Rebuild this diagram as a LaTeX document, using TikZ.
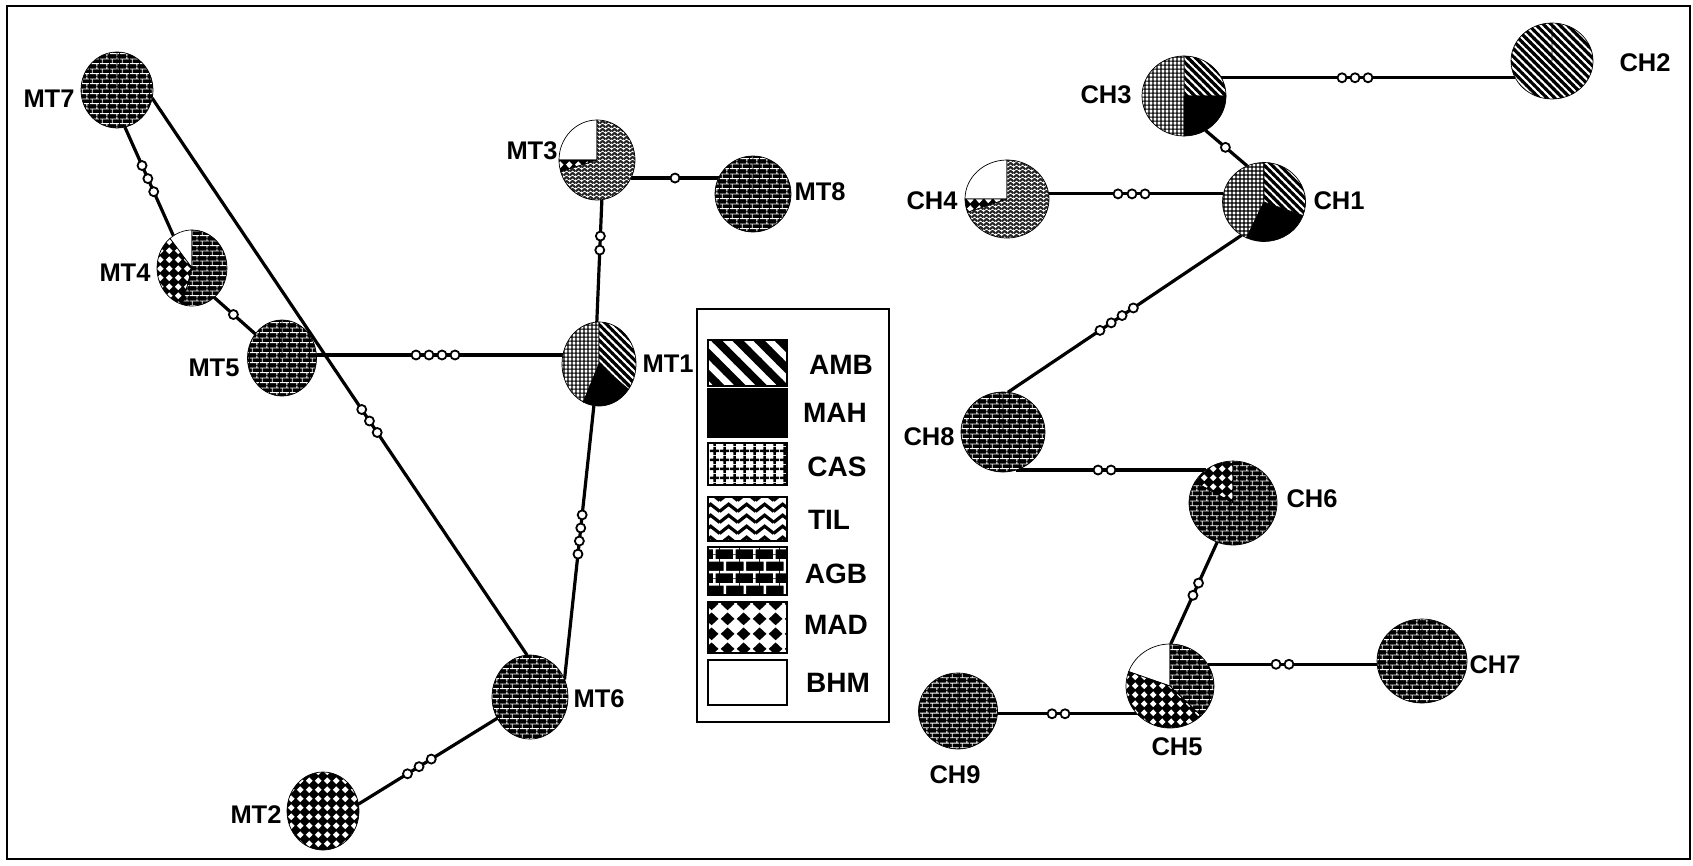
\documentclass[tikz,border=0pt]{standalone}
\usepackage{fontspec}
\setmainfont{Liberation Sans}
\usetikzlibrary{patterns.meta,shapes.geometric,calc}

% ---------- small patterns (pies) ----------
\pgfdeclarepattern{name=stripeS, type=uncolored,
  bottom left={\pgfpoint{-1pt}{0pt}}, top right={\pgfpoint{6.5pt}{5.5pt}},
  tile size={\pgfpoint{5.5pt}{5.5pt}},
  tile transformation={\pgftransformrotate{-45}},
  code={\pgfsetlinewidth{3.1pt}
    \pgfpathmoveto{\pgfpoint{-1pt}{2.75pt}}\pgfpathlineto{\pgfpoint{6.5pt}{2.75pt}}
    \pgfusepath{stroke}}}
\pgfdeclarepattern{name=gridS, type=uncolored,
  bottom left={\pgfpoint{0pt}{0pt}}, top right={\pgfpoint{4.4pt}{4.4pt}},
  tile size={\pgfpoint{4.4pt}{4.4pt}},
  code={\pgfsetlinewidth{1.25pt}
    \pgfpathmoveto{\pgfpoint{0pt}{2.2pt}}\pgfpathlineto{\pgfpoint{4.4pt}{2.2pt}}
    \pgfpathmoveto{\pgfpoint{2.2pt}{0pt}}\pgfpathlineto{\pgfpoint{2.2pt}{4.4pt}}
    \pgfusepath{stroke}}}
\pgfdeclarepattern{name=zigS, type=uncolored,
  bottom left={\pgfpoint{0pt}{0pt}}, top right={\pgfpoint{6pt}{3.8pt}},
  tile size={\pgfpoint{6pt}{3.8pt}},
  code={\pgfsetlinewidth{2.2pt}
    \pgfpathmoveto{\pgfpoint{-0.3pt}{0.5pt}}\pgfpathlineto{\pgfpoint{3pt}{3.3pt}}
    \pgfpathlineto{\pgfpoint{6.3pt}{0.5pt}}
    \pgfusepath{stroke}}}
\pgfdeclarepattern{name=brickS, type=uncolored,
  bottom left={\pgfpoint{0pt}{0pt}}, top right={\pgfpoint{10pt}{9.6pt}},
  tile size={\pgfpoint{10pt}{9.6pt}},
  code={\pgfsetlinewidth{0.9pt}
    \pgfpathmoveto{\pgfpoint{0pt}{2.4pt}}\pgfpathlineto{\pgfpoint{10pt}{2.4pt}}
    \pgfpathmoveto{\pgfpoint{0pt}{7.2pt}}\pgfpathlineto{\pgfpoint{10pt}{7.2pt}}
    \pgfpathmoveto{\pgfpoint{2.5pt}{2.4pt}}\pgfpathlineto{\pgfpoint{2.5pt}{7.2pt}}
    \pgfpathmoveto{\pgfpoint{7.5pt}{7.2pt}}\pgfpathlineto{\pgfpoint{7.5pt}{9.6pt}}
    \pgfpathmoveto{\pgfpoint{7.5pt}{0pt}}\pgfpathlineto{\pgfpoint{7.5pt}{2.4pt}}
    \pgfusepath{stroke}}}
\pgfdeclarepattern{name=diaS, type=uncolored,
  bottom left={\pgfpoint{0pt}{0pt}}, top right={\pgfpoint{8.7pt}{8.7pt}},
  tile size={\pgfpoint{8.7pt}{8.7pt}},
  code={
    \pgfpathmoveto{\pgfpoint{4.35pt}{0.95pt}}\pgfpathlineto{\pgfpoint{7.75pt}{4.35pt}}
    \pgfpathlineto{\pgfpoint{4.35pt}{7.75pt}}\pgfpathlineto{\pgfpoint{0.95pt}{4.35pt}}
    \pgfpathclose\pgfusepath{fill}}}
% ---------- large patterns (legend) ----------
\pgfdeclarepattern{name=stripeL, type=uncolored,
  bottom left={\pgfpoint{-1pt}{0pt}}, top right={\pgfpoint{16pt}{15pt}},
  tile size={\pgfpoint{15pt}{15pt}},
  tile transformation={\pgftransformrotate{-45}},
  code={\pgfsetlinewidth{8pt}
    \pgfpathmoveto{\pgfpoint{-1pt}{7.5pt}}\pgfpathlineto{\pgfpoint{16pt}{7.5pt}}
    \pgfusepath{stroke}}}
\pgfdeclarepattern{name=gridL, type=uncolored,
  bottom left={\pgfpoint{0pt}{0pt}}, top right={\pgfpoint{10pt}{8.5pt}},
  tile size={\pgfpoint{10pt}{8.5pt}},
  code={\pgfsetlinewidth{2.6pt}
    \pgfpathmoveto{\pgfpoint{0pt}{4.25pt}}\pgfpathlineto{\pgfpoint{10pt}{4.25pt}}
    \pgfpathmoveto{\pgfpoint{5pt}{0pt}}\pgfpathlineto{\pgfpoint{5pt}{8.5pt}}
    \pgfusepath{stroke}}}
\pgfdeclarepattern{name=zigL, type=uncolored,
  bottom left={\pgfpoint{0pt}{0pt}}, top right={\pgfpoint{18pt}{11pt}},
  tile size={\pgfpoint{18pt}{11pt}},
  code={\pgfsetlinewidth{3.4pt}
    \pgfpathmoveto{\pgfpoint{-0.6pt}{1.6pt}}\pgfpathlineto{\pgfpoint{9pt}{9.4pt}}
    \pgfpathlineto{\pgfpoint{18.6pt}{1.6pt}}
    \pgfusepath{stroke}}}
\pgfdeclarepattern{name=brickL, type=uncolored,
  bottom left={\pgfpoint{0pt}{0pt}}, top right={\pgfpoint{20pt}{24pt}},
  tile size={\pgfpoint{20pt}{24pt}},
  code={\pgfsetlinewidth{2.6pt}
    \pgfpathmoveto{\pgfpoint{0pt}{6pt}}\pgfpathlineto{\pgfpoint{20pt}{6pt}}
    \pgfpathmoveto{\pgfpoint{0pt}{18pt}}\pgfpathlineto{\pgfpoint{20pt}{18pt}}
    \pgfpathmoveto{\pgfpoint{5pt}{6pt}}\pgfpathlineto{\pgfpoint{5pt}{18pt}}
    \pgfpathmoveto{\pgfpoint{15pt}{18pt}}\pgfpathlineto{\pgfpoint{15pt}{24pt}}
    \pgfpathmoveto{\pgfpoint{15pt}{0pt}}\pgfpathlineto{\pgfpoint{15pt}{6pt}}
    \pgfusepath{stroke}}}
\pgfdeclarepattern{name=diaL, type=uncolored,
  bottom left={\pgfpoint{0pt}{0pt}}, top right={\pgfpoint{16pt}{15pt}},
  tile size={\pgfpoint{16pt}{15pt}},
  code={
    \pgfpathmoveto{\pgfpoint{8pt}{0.8pt}}\pgfpathlineto{\pgfpoint{15.2pt}{7.5pt}}
    \pgfpathlineto{\pgfpoint{8pt}{14.2pt}}\pgfpathlineto{\pgfpoint{0.8pt}{7.5pt}}
    \pgfpathclose\pgfusepath{fill}}}

\newcommand\mkslice[7]{\path[#7,draw=black,line width=0.7pt] (#1,#2) -- ++(#5:#3 and #4)
  arc[start angle=#5,end angle=#6,x radius=#3,y radius=#4] -- cycle;}

\tikzset{
  amb/.style={preaction={fill=white}, pattern=stripeS, pattern color=black},
  mah/.style={fill=black},
  cas/.style={preaction={fill=white}, pattern=gridS, pattern color=black},
  til/.style={preaction={fill=white}, pattern=zigS, pattern color=black!85},
  agb/.style={preaction={fill=black}, pattern=brickS, pattern color=white},
  mad/.style={preaction={fill=black}, pattern=diaS, pattern color=white},
  bhm/.style={fill=white},
  ambL/.style={preaction={fill=white}, pattern=stripeL, pattern color=black},
  casL/.style={preaction={fill=white}, pattern=gridL, pattern color=black},
  tilL/.style={preaction={fill=white}, pattern=zigL, pattern color=black},
  agbL/.style={preaction={fill=black}, pattern=brickL, pattern color=white},
  madL/.style={preaction={fill=white}, pattern=diaL, pattern color=black},
  swatch/.style={draw=black, line width=2pt},
  pn/.style={shape=ellipse, inner sep=0pt, outer sep=0pt},
  edge/.style={line width=3.2pt},
  mut/.style={circle, draw=black, fill=white, line width=1.8pt, inner sep=0pt, minimum size=9pt},
  lbl/.style={font=\fontsize{25.5}{30}\selectfont\bfseries, inner sep=0pt},
  lgl/.style={font=\fontsize{28}{32}\selectfont\bfseries, inner sep=0pt},
}

\begin{document}
\begin{tikzpicture}[x=1pt,y=1pt]
\useasboundingbox (0,0) rectangle (1693,-865);
\fill[white] (0,0) rectangle (1693,-865);
\draw[line width=2.5pt] (7,-6) rectangle (1690,-859);

% ---- invisible pie nodes (for connector anchors) ----
\node[pn, minimum width=72pt, minimum height=76pt] (MT7) at (117,-90) {};
\node[pn, minimum width=76pt, minimum height=80pt] (MT3) at (597,-160) {};
\node[pn, minimum width=76pt, minimum height=76pt] (MT8) at (753,-194) {};
\node[pn, minimum width=70pt, minimum height=76pt] (MT4) at (192,-268) {};
\node[pn, minimum width=69pt, minimum height=76pt] (MT5) at (282,-358) {};
\node[pn, minimum width=74pt, minimum height=84pt] (MT1) at (599,-364) {};
\node[pn, minimum width=76pt, minimum height=84pt] (MT6) at (530,-697) {};
\node[pn, minimum width=72pt, minimum height=78pt] (MT2) at (323,-811) {};
\node[pn, minimum width=84pt, minimum height=80pt] (CH3) at (1184,-96) {};
\node[pn, minimum width=82pt, minimum height=76pt] (CH2) at (1552,-61) {};
\node[pn, minimum width=84pt, minimum height=78pt] (CH4) at (1007,-199) {};
\node[pn, minimum width=83pt, minimum height=79pt] (CH1) at (1264,-202) {};
\node[pn, minimum width=84pt, minimum height=80pt] (CH8) at (1003,-432) {};
\node[pn, minimum width=88pt, minimum height=84pt] (CH6) at (1233,-503) {};
\node[pn, minimum width=88pt, minimum height=84pt] (CH5) at (1170,-686) {};
\node[pn, minimum width=90pt, minimum height=84pt] (CH7) at (1422,-661) {};
\node[pn, minimum width=79pt, minimum height=76pt] (CH9) at (958,-711) {};

% ---- connectors ----
\draw[edge] (MT7.-78) -- (MT4.120);
\draw[edge] (MT7.-13) -- (MT6.94);
\draw[edge] (MT4.-53) -- (MT5.138);
\draw[edge] (MT5.5) -- (MT5.5 -| MT1.166);
\draw[edge] (MT3.-83) -- (MT1.93);
\draw[edge] (MT3.-28) -- (MT3.-28 -| MT8.155);
\draw[edge] (MT1.-97) -- (MT6.27);
\draw[edge] (MT6.-147) -- (MT2.11);
\draw[edge] (CH3.26) -- (CH3.26 -| CH2.205);
\draw[edge] (CH3.-58) -- (CH1.115);
\draw[edge] (CH4.7) -- (CH4.7 -| CH1.169);
\draw[edge] (CH1.-124) -- (CH8.83);
\draw[edge] (CH8.-71) -- (CH8.-71 -| CH6.129.5);
\draw[edge] (CH6.-112) -- (CH5.89);
\draw[edge] (CH5.30) -- (CH5.30 -| CH7.184);
\draw[edge] (CH9.-4) -- (CH9.-4 -| CH5.220);

% ---- mutation steps ----
\node[mut] (a1) at ($(MT7.-78)!(141,-166)!(MT4.120)$) {};
\node[mut] (a2) at ($(MT7.-78)!(147,-179)!(MT4.120)$) {};
\node[mut] (a3) at ($(MT7.-78)!(153,-192)!(MT4.120)$) {};
\node[mut] (b1) at ($(MT7.-13)!(361,-410)!(MT6.94)$) {};
\node[mut] (b2) at ($(MT7.-13)!(368,-422)!(MT6.94)$) {};
\node[mut] (b3) at ($(MT7.-13)!(375,-434)!(MT6.94)$) {};
\node[mut] (c1) at ($(MT4.-53)!(233,-315)!(MT5.138)$) {};
\node[mut] (d1) at (416,0 |- MT5.5) {};
\node[mut] (d2) at (429,0 |- MT5.5) {};
\node[mut] (d3) at (442,0 |- MT5.5) {};
\node[mut] (d4) at (455,0 |- MT5.5) {};
\node[mut] (e1) at ($(MT3.-83)!(599,-236)!(MT1.93)$) {};
\node[mut] (e2) at ($(MT3.-83)!(598,-250)!(MT1.93)$) {};
\node[mut] (f1) at (675,0 |- MT3.-28) {};
\node[mut] (g1) at ($(MT1.-97)!(583,-515)!(MT6.27)$) {};
\node[mut] (g2) at ($(MT1.-97)!(581,-528)!(MT6.27)$) {};
\node[mut] (g3) at ($(MT1.-97)!(579,-541)!(MT6.27)$) {};
\node[mut] (g4) at ($(MT1.-97)!(577,-554)!(MT6.27)$) {};
\node[mut] (h1) at ($(MT6.-147)!(407,-773)!(MT2.11)$) {};
\node[mut] (h2) at ($(MT6.-147)!(418,-765)!(MT2.11)$) {};
\node[mut] (h3) at ($(MT6.-147)!(430,-757)!(MT2.11)$) {};
\node[mut] (i1) at (1342,0 |- CH3.26) {};
\node[mut] (i2) at (1355,0 |- CH3.26) {};
\node[mut] (i3) at (1368,0 |- CH3.26) {};
\node[mut] (j1) at ($(CH3.-58)!(1224,-149)!(CH1.115)$) {};
\node[mut] (k1) at (1118,0 |- CH4.7) {};
\node[mut] (k2) at (1132,0 |- CH4.7) {};
\node[mut] (k3) at (1145,0 |- CH4.7) {};
\node[mut] (l1) at ($(CH1.-124)!(1099,-329)!(CH8.83)$) {};
\node[mut] (l2) at ($(CH1.-124)!(1110,-321)!(CH8.83)$) {};
\node[mut] (l3) at ($(CH1.-124)!(1121,-314)!(CH8.83)$) {};
\node[mut] (l4) at ($(CH1.-124)!(1132,-306)!(CH8.83)$) {};
\node[mut] (n1) at (1098,0 |- CH8.-71) {};
\node[mut] (n2) at (1111,0 |- CH8.-71) {};
\node[mut] (o1) at ($(CH6.-112)!(1194,-581)!(CH5.89)$) {};
\node[mut] (o2) at ($(CH6.-112)!(1190,-594)!(CH5.89)$) {};
\node[mut] (p1) at (1276,0 |- CH5.30) {};
\node[mut] (p2) at (1289,0 |- CH5.30) {};
\node[mut] (q1) at (1052,0 |- CH9.-4) {};
\node[mut] (q2) at (1065,0 |- CH9.-4) {};

% ---- pies ----
\mkslice{117}{-90}{36}{38}{90}{450}{agb}
\mkslice{597}{-160}{38}{40}{90}{180}{bhm}
\mkslice{597}{-160}{38}{40}{180}{197}{mad}
\mkslice{597}{-160}{38}{40}{197}{450}{til}
\mkslice{753}{-194}{38}{38}{90}{450}{agb}
\mkslice{192}{-268}{35}{38}{90}{129}{bhm}
\mkslice{192}{-268}{35}{38}{129}{254}{mad}
\mkslice{192}{-268}{35}{38}{254}{450}{agb}
\mkslice{282}{-358}{34.5}{38}{90}{450}{agb}
\mkslice{599}{-364}{37}{42}{90}{245}{cas}
\mkslice{599}{-364}{37}{42}{245}{323}{mah}
\mkslice{599}{-364}{37}{42}{323}{450}{amb}
\mkslice{530}{-697}{38}{42}{90}{450}{agb}
\mkslice{323}{-811}{36}{39}{90}{450}{mad}
\mkslice{1184}{-96}{42}{40}{0}{90}{amb}
\mkslice{1184}{-96}{42}{40}{90}{270}{cas}
\mkslice{1184}{-96}{42}{40}{270}{360}{mah}
\mkslice{1552}{-61}{41}{38}{90}{450}{amb}
\mkslice{1007}{-199}{42}{39}{90}{180}{bhm}
\mkslice{1007}{-199}{42}{39}{180}{200}{mad}
\mkslice{1007}{-199}{42}{39}{200}{450}{til}
\mkslice{1264}{-202}{41.5}{39.5}{90}{245}{cas}
\mkslice{1264}{-202}{41.5}{39.5}{245}{340}{mah}
\mkslice{1264}{-202}{41.5}{39.5}{340}{450}{amb}
\mkslice{1003}{-432}{42}{40}{90}{450}{agb}
\mkslice{1233}{-503}{44}{42}{90}{150}{mad}
\mkslice{1233}{-503}{44}{42}{150}{450}{agb}
\mkslice{1170}{-686}{44}{42}{90}{160}{bhm}
\mkslice{1170}{-686}{44}{42}{160}{315}{mad}
\mkslice{1170}{-686}{44}{42}{315}{450}{agb}
\mkslice{1422}{-661}{45}{42}{90}{450}{agb}
\mkslice{958}{-711}{39.5}{38}{90}{450}{agb}

% ---- pie labels ----
\node[lbl] (tMT7) at (49,-99) {MT7};
\node[lbl] (tMT3) at (532,-151) {MT3};
\node[lbl] (tMT8) at (820,-192) {MT8};
\node[lbl] (tMT4) at (125,-273) {MT4};
\node[lbl] (tMT5) at (214,-368) {MT5};
\node[lbl] (tMT1) at (668,-364) {MT1};
\node[lbl] (tMT6) at (599,-699) {MT6};
\node[lbl] (tMT2) at (256,-815) {MT2};
\node[lbl] (tCH3) at (1106,-95) {CH3};
\node[lbl] (tCH2) at (1645,-63) {CH2};
\node[lbl] (tCH4) at (932,-201) {CH4};
\node[lbl] (tCH1) at (1339,-201) {CH1};
\node[lbl] (tCH8) at (929,-437) {CH8};
\node[lbl] (tCH6) at (1312,-499) {CH6};
\node[lbl] (tCH5) at (1177,-747) {CH5};
\node[lbl] (tCH7) at (1495,-665) {CH7};
\node[lbl] (tCH9) at (955,-775) {CH9};

% ---- legend ----
\draw[line width=2pt] (697,-309) rectangle (889,-722);
\path[swatch, ambL] (708,-340) rectangle (787,-386);
\path[swatch, fill=black] (708,-389) rectangle (787,-437);
\path[swatch, casL] (708,-443) rectangle (787,-485);
\path[swatch, tilL] (708,-497) rectangle (787,-541);
\path[swatch, agbL] (708,-547) rectangle (787,-595);
\path[swatch, madL] (708,-602) rectangle (787,-653);
\path[swatch, fill=white] (708,-660) rectangle (787,-705);
\node[lgl] (lAMB) at (841,-365) {AMB};
\node[lgl] (lMAH) at (835,-413) {MAH};
\node[lgl] (lCAS) at (837,-467) {CAS};
\node[lgl] (lTIL) at (829,-520) {TIL};
\node[lgl] (lAGB) at (836,-574) {AGB};
\node[lgl] (lMAD) at (836,-625) {MAD};
\node[lgl] (lBHM) at (838,-683) {BHM};
\end{tikzpicture}
\end{document}
